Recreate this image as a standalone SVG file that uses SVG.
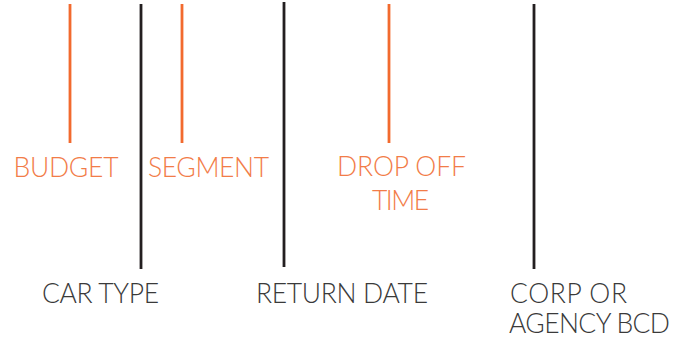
<svg xmlns="http://www.w3.org/2000/svg" width="675" height="337" viewBox="0 0 675 337">
<style>
.o{stroke:#F26A2E;stroke-width:2.8;fill:none}
.k{stroke:#231F20;stroke-width:2.8;fill:none}
text{font-family:Lato,"Liberation Sans",sans-serif;font-weight:300;font-size:26.5px}
.to{fill:#F27C48}
.tk{fill:#3A3A3A}
</style>
<rect width="675" height="337" fill="#fff"/>
<g id="connectors">
<line class="o" x1="70" y1="4" x2="70" y2="143"/>
<line class="k" x1="141" y1="4" x2="141" y2="269"/>
<line class="o" x1="182" y1="4" x2="182" y2="143"/>
<line class="k" x1="284" y1="2" x2="284" y2="267"/>
<line class="o" x1="389" y1="4" x2="389" y2="143"/>
<line class="k" x1="534" y1="4" x2="534" y2="269"/>
</g>
<g id="budget"><text class="to" x="13.5" y="177" textLength="105">BUDGET</text></g>
<g id="segment"><text class="to" x="148" y="177" textLength="121">SEGMENT</text></g>
<g id="dropoff"><text class="to" x="337" y="176" textLength="129">DROP OFF</text><text class="to" x="372" y="210" textLength="57">TIME</text></g>
<g id="cartype"><text class="tk" x="42" y="303" textLength="117">CAR TYPE</text></g>
<g id="returndate"><text class="tk" x="256" y="302.5" textLength="172">RETURN DATE</text></g>
<g id="corp"><text class="tk" x="510" y="302.5" textLength="117">CORP OR</text><text class="tk" x="509" y="332.5" textLength="161">AGENCY BCD</text></g>
</svg>
